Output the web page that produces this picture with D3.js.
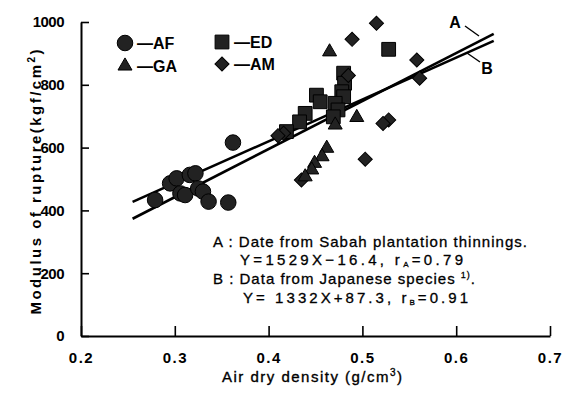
<!DOCTYPE html>
<html>
<head>
<meta charset="utf-8">
<script src="https://cdn.jsdelivr.net/npm/d3@7"></script>
<style>
  html, body { margin: 0; padding: 0; background: #fff; }
  svg { display: block; font-family: "Liberation Sans", Arial, sans-serif; }
</style>
</head>
<body>
<svg id="chart" width="568" height="396"></svg>
<script>
// ---- data ----
const xTicks = [0.2, 0.3, 0.4, 0.5, 0.6, 0.7];
const yTicks = [0, 200, 400, 600, 800, 1000];

// AF (circles)
const afX = [0.279, 0.295, 0.302, 0.316, 0.322, 0.306, 0.311, 0.325, 0.330, 0.336, 0.357, 0.362];
const afY = [433, 486, 502, 513, 518, 454, 449, 470, 460, 428, 425, 616];
// GA (triangles)
const gaX = [0.465, 0.494, 0.471, 0.462, 0.457, 0.449, 0.446, 0.439];
const gaY = [905, 696, 672, 598, 571, 550, 529, 507];
// ED (squares)
const edX = [0.528, 0.480, 0.481, 0.478, 0.480, 0.451, 0.455, 0.471, 0.474, 0.439, 0.433, 0.419, 0.469];
const edY = [913, 837, 805, 778, 762, 767, 746, 741, 720, 709, 682, 651, 698];
// AM (diamonds)
const amX = [0.515, 0.489, 0.558, 0.561, 0.528, 0.522, 0.503, 0.435, 0.416, 0.410, 0.485];
const amY = [996, 945, 879, 821, 688, 677, 563, 497, 646, 638, 830];

// regression lines  Y = a X + b
const lineNames = ["A", "B"];
const lineSlope = [1529, 1332];
const lineIntercept = [-16.4, 87.3];
const lineRange = [0.255, 0.64];

// ---- drawing ----
const svg = d3.select("#chart");
const x = d3.scaleLinear().domain([0.2, 0.7]).range([81, 550]);
const y = d3.scaleLinear().domain([0, 1000]).range([336, 22]);

// axes
const xAxis = svg.append("g").attr("transform", `translate(0,${y(0)})`)
  .call(d3.axisBottom(x).tickValues(xTicks).tickFormat(d3.format(".1f"))
    .tickSizeInner(-10).tickSizeOuter(0).tickPadding(16));
const yAxis = svg.append("g").attr("transform", `translate(${x(0.2)},0)`)
  .call(d3.axisLeft(y).tickValues(yTicks).tickFormat(d3.format("d"))
    .tickSizeInner(-8).tickSizeOuter(0).tickPadding(17));

[xAxis, yAxis].forEach(g => {
  g.select(".domain").attr("stroke", "#000").attr("stroke-width", 2);
  g.selectAll(".tick line").attr("stroke", "#000").attr("stroke-width", 1.6);
  g.selectAll(".tick text").attr("fill", "#000").attr("font-size", 15)
    .attr("font-weight", "bold");
});
xAxis.selectAll(".tick text").attr("letter-spacing", "1.5px");
yAxis.selectAll(".tick text").attr("letter-spacing", "-0.5px");

// axis titles
const xt = svg.append("text")
  .attr("x", 222).attr("y", 382)
  .attr("font-size", 15).attr("textLength", 180).attr("lengthAdjust", "spacing")
  .attr("stroke", "#000").attr("stroke-width", 0.35);
xt.append("tspan").text("Air dry density (g/cm");
xt.append("tspan").attr("font-size", 10).attr("dy", -6).text("3");
xt.append("tspan").attr("dy", 6).text(")");

const yt = svg.append("text")
  .attr("transform", "translate(41,182) rotate(-90)")
  .attr("text-anchor", "middle")
  .attr("font-size", 15).attr("font-weight", "bold")
  .attr("textLength", 265).attr("lengthAdjust", "spacing");
yt.append("tspan").text("Modulus of rupture(kgf/cm");
yt.append("tspan").attr("font-size", 10).attr("dy", -6).text("2");
yt.append("tspan").attr("dy", 6).text(")");

// regression lines
lineNames.forEach((n, i) => {
  const pts = lineRange.map(d => [x(d), y(lineSlope[i] * d + lineIntercept[i])]);
  svg.append("path")
    .attr("d", d3.line()(pts))
    .attr("stroke", "#000").attr("stroke-width", 2.6).attr("fill", "none");
});

// line labels with leaders
svg.append("text").attr("x", 455).attr("y", 28).attr("text-anchor", "middle")
  .attr("font-size", 16).attr("font-weight", "bold").text("A");
svg.append("line").attr("x1", 465).attr("y1", 26).attr("x2", 479).attr("y2", 36)
  .attr("stroke", "#000").attr("stroke-width", 1.4);
svg.append("text").attr("x", 487).attr("y", 74).attr("text-anchor", "middle")
  .attr("font-size", 16).attr("font-weight", "bold").text("B");
svg.append("line").attr("x1", 467).attr("y1", 53).attr("x2", 480).attr("y2", 62)
  .attr("stroke", "#000").attr("stroke-width", 1.4);

// markers
const markFill = "#222";
const circ = d3.symbol().type(d3.symbolCircle).size(190);
const tri = d3.symbol().type(d3.symbolTriangle).size(85);
const sq = d3.symbol().type(d3.symbolSquare).size(190);
const dia = d3.symbol().type(d3.symbolSquare).size(100);

function drawSeries(xs, ys, gen, rot) {
  svg.append("g").selectAll("path").data(xs).join("path")
    .attr("d", gen)
    .attr("transform", (d, i) => `translate(${x(d)},${y(ys[i])}) rotate(${rot})`)
    .attr("fill", markFill).attr("stroke", "#000").attr("stroke-width", 1);
}
drawSeries(afX, afY, circ, 0);
drawSeries(edX, edY, sq, 0);
drawSeries(amX, amY, dia, 45);
drawSeries(gaX, gaY, tri, 0);

// legend
const legendNames = ["AF", "GA", "ED", "AM"];
const legendGens = [circ, tri, sq, dia];
const legendRot = [0, 0, 0, 45];
const legendPos = [[125, 43], [125, 66], [222, 42], [222, 64]];
legendNames.forEach((n, i) => {
  const [lx, ly] = legendPos[i];
  svg.append("path").attr("d", legendGens[i])
    .attr("transform", `translate(${lx},${ly}) rotate(${legendRot[i]})`)
    .attr("fill", markFill).attr("stroke", "#000");
  svg.append("text").attr("x", lx + 12).attr("y", ly + 6)
    .attr("font-size", 16).attr("font-weight", "bold").text("\u2014" + n);
});

// annotation
const ann = svg.append("g").attr("font-size", 15).attr("fill", "#000")
  .attr("stroke", "#000").attr("stroke-width", 0.3);
ann.append("text").attr("x", 213).attr("y", 247)
  .attr("textLength", 314).attr("lengthAdjust", "spacing")
  .text("A : Date from Sabah plantation thinnings.");
const l2 = ann.append("text").attr("x", 240).attr("y", 265)
  .attr("textLength", 223).attr("lengthAdjust", "spacing");
l2.append("tspan").text("Y=1529X\u221216.4, r");
l2.append("tspan").attr("font-size", 8).attr("dy", 2).text("A");
l2.append("tspan").attr("dy", -2).text("=0.79");
const l3 = ann.append("text").attr("x", 213).attr("y", 284)
  .attr("textLength", 262).attr("lengthAdjust", "spacing");
l3.append("tspan").text("B : Data from Japanese species ");
l3.append("tspan").attr("font-size", 9).attr("dy", -6).text("1)");
l3.append("tspan").attr("dy", 6).text(".");
const l4 = ann.append("text").attr("x", 243).attr("y", 303)
  .attr("textLength", 225).attr("lengthAdjust", "spacing");
l4.append("tspan").text("Y=  1332X+87.3, r");
l4.append("tspan").attr("font-size", 8).attr("dy", 2).text("B");
l4.append("tspan").attr("dy", -2).text("=0.91");
</script>
</body>
</html>
